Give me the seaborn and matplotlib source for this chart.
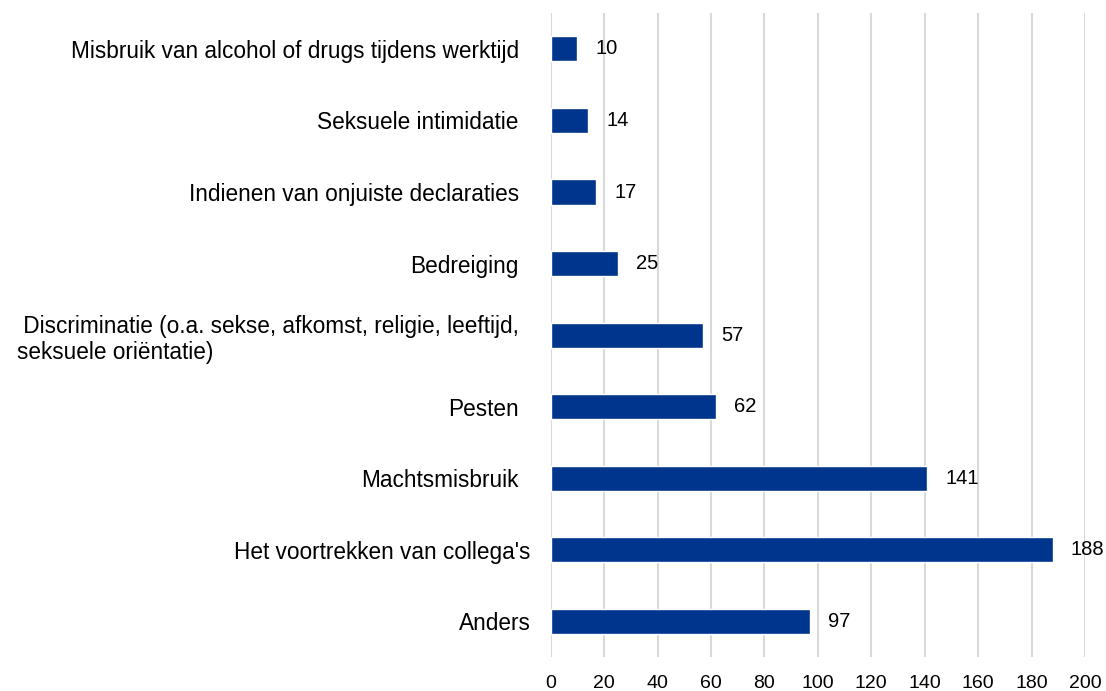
import pandas as pd
import matplotlib.pyplot as plt
import matplotlib.transforms as mtransforms
import seaborn as sns

# categories from top to bottom, as in the chart
categories = [
    "Misbruik van alcohol of drugs tijdens werktijd",
    "Seksuele intimidatie",
    "Indienen van onjuiste declaraties",
    "Bedreiging",
    " Discriminatie (o.a. sekse, afkomst, religie, leeftijd,\nseksuele oriëntatie)",
    "Pesten",
    "Machtsmisbruik",
    "Het voortrekken van collega's",
    "Anders",
]
counts = [10, 14, 17, 25, 57, 62, 141, 188, 97]
xticks = list(range(0, 201, 20))

df = pd.DataFrame({"categorie": categories, "aantal": counts})

sns.set_style("white")
plt.rcParams["font.family"] = ["Liberation Sans", "DejaVu Sans"]

fig = plt.figure(figsize=(11.06, 6.91), dpi=100)
ax = fig.add_axes([0.498, 0.049, 0.483, 0.932])

sns.barplot(data=df, x="aantal", y="categorie", orient="h", color="#00358E",
            width=0.35, saturation=1, ax=ax)

# value labels right of the bars
for i, v in enumerate(counts):
    ax.annotate(str(v), xy=(v, i), xytext=(13, 0), textcoords="offset points",
                ha="left", va="center", fontsize=14.5, color="#000000")

ax.set_xlim(0, 200)
ax.set_ylim(len(categories) - 0.5, -0.5)
ax.set_xticks(xticks)
ax.xaxis.grid(True, color="#d9d9d9", linewidth=1.5)
ax.set_axisbelow(True)
for s in ax.spines.values():
    s.set_visible(False)
ax.tick_params(axis="x", length=0, labelsize=14, pad=13, labelcolor="black")
ax.tick_params(axis="y", length=0, labelsize=16.3, pad=23, labelcolor="black")
for lbl in ax.get_yticklabels():
    lbl.set_multialignment("left")
# last two labels sit a bit closer to the axis in the original
shift = mtransforms.ScaledTranslation(0.12, 0, fig.dpi_scale_trans)
for lbl in ax.get_yticklabels()[-2:]:
    lbl.set_transform(lbl.get_transform() + shift)
ax.set_xlabel("")
ax.set_ylabel("")

fig.savefig("out.png", dpi=100)
